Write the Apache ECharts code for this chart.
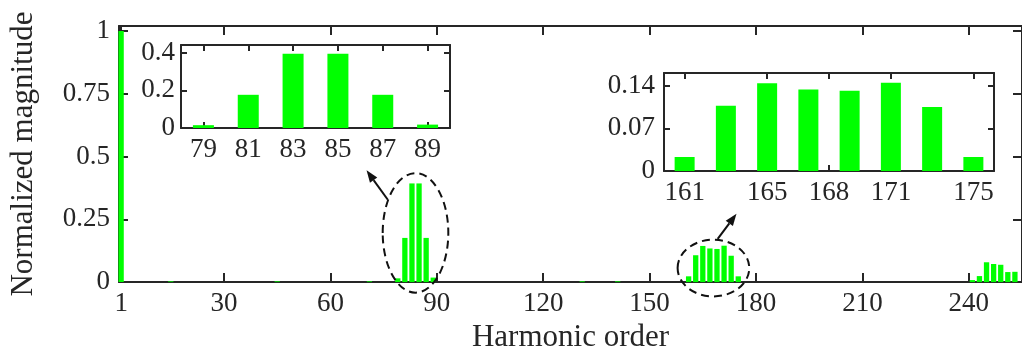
<!DOCTYPE html>
<html>
<head>
<meta charset="utf-8">
<script src="https://cdn.jsdelivr.net/npm/echarts@6/dist/echarts.min.js"></script>
<style>
  html, body { margin: 0; padding: 0; background: #fff; }
  #chart { width: 1022px; height: 358px; }
</style>
</head>
<body>
<div id="chart"></div>
<script>
// harmonic spectrum (normalized to the fundamental)
const harmonicOrders = [1, 15, 45, 71, 79, 81, 83, 85, 87, 89, 131, 141,
  161, 163, 165, 167, 169, 171, 173, 175, 241, 243, 245, 247, 249, 251, 253];
const magnitudes = [1.0, 0.003, 0.003, 0.003, 0.015, 0.176, 0.393, 0.393, 0.176, 0.018, 0.003, 0.003,
  0.023, 0.107, 0.144, 0.134, 0.132, 0.145, 0.105, 0.023, 0.008, 0.024, 0.079, 0.072, 0.069, 0.040, 0.041];

// tick labels
const mainXTicks = [1, 30, 60, 90, 120, 150, 180, 210, 240];
const mainYTicks = [0, 0.25, 0.5, 0.75, 1];
const inset1XTicks = [79, 81, 83, 85, 87, 89];
const inset1YTicks = [0, 0.2, 0.4];
const inset2XTicks = [161, 165, 168, 171, 175];
const inset2YTicks = [0, 0.07, 0.14];

// zoom windows
const inset1Range = [78, 90];
const inset2Range = [160, 176];

// annotations in data coordinates of the main plot
const ellipses = [
  { x: 84, y: 0.196, rx: 9.25, ry: 0.238 },
  { x: 168, y: 0.056, rx: 10.1, ry: 0.113 }
];
const arrows = [
  { from: [76.2, 0.328], to: [70.2, 0.445] },
  { from: [169.2, 0.172], to: [174.5, 0.272] }
];

const FONT = "Liberation Serif";
const INK = "#262626";
const GREEN = "#00ff00";

const pairs = harmonicOrders.map((h, i) => [h, magnitudes[i]]);
const inRange = (r) => pairs.filter(p => p[0] >= r[0] && p[0] <= r[1]);

function boxAxes(grid, xr, yr, xt, yt, tickLen, fs, xm, ym) {
  const line = { show: true, onZero: false, lineStyle: { color: INK, width: 2 } };
  const x = {
    type: "value", gridIndex: grid, min: xr[0], max: xr[1],
    axisLine: line, splitLine: { show: false },
    axisTick: { inside: true, length: tickLen, customValues: xt, lineStyle: { color: INK, width: 2 } },
    axisLabel: { customValues: xt, margin: xm, fontFamily: FONT, fontSize: fs, color: INK }
  };
  const y = {
    type: "value", gridIndex: grid, min: yr[0], max: yr[1],
    axisLine: line, splitLine: { show: false },
    axisTick: { inside: true, length: tickLen, customValues: yt, lineStyle: { color: INK, width: 2 } },
    axisLabel: { customValues: yt, margin: ym, fontFamily: FONT, fontSize: fs, color: INK }
  };
  const xTop = Object.assign({}, x, { position: "top", axisLabel: { show: false } });
  const yRight = Object.assign({}, y, { position: "right", axisLabel: { show: false } });
  return { x: [x, xTop], y: [y, yRight] };
}

const mainAx = boxAxes(0, [0.4, 255], [0, 1.02], mainXTicks, mainYTicks, 9, 27, 8, 9);
mainAx.x[0].name = "Harmonic order";
mainAx.x[0].nameLocation = "middle";
mainAx.x[0].nameGap = 38;
mainAx.x[0].nameTextStyle = { fontFamily: FONT, fontSize: 31, color: INK };
mainAx.y[0].name = "Normalized magnitude";
mainAx.y[0].nameLocation = "middle";
mainAx.y[0].nameGap = 80;
mainAx.y[0].nameTextStyle = { fontFamily: FONT, fontSize: 31, color: INK };

const in1Ax = boxAxes(1, inset1Range, [0, 0.44], inset1XTicks, inset1YTicks, 6, 27, 8, 6);
const in2Ax = boxAxes(2, inset2Range, [0, 0.161], inset2XTicks, inset2YTicks, 6, 27, 8, 9);

const chart = echarts.init(document.getElementById("chart"));

const option = {
  animation: false,
  backgroundColor: "#fff",
  grid: [
    { left: 118, top: 26, width: 908, height: 261 },
    { left: 181, top: 45, width: 269, height: 83, show: true, backgroundColor: "#fff", borderWidth: 0 },
    { left: 664, top: 73, width: 330, height: 98, show: true, backgroundColor: "#fff", borderWidth: 0 }
  ],
  xAxis: [].concat(mainAx.x, in1Ax.x, in2Ax.x),
  yAxis: [].concat(mainAx.y, in1Ax.y, in2Ax.y),
  series: [
    { type: "bar", xAxisIndex: 0, yAxisIndex: 0, data: pairs, barWidth: 5.3,
      itemStyle: { color: GREEN } },
    { type: "bar", xAxisIndex: 2, yAxisIndex: 2, data: inRange(inset1Range), barWidth: 21,
      itemStyle: { color: GREEN } },
    { type: "bar", xAxisIndex: 4, yAxisIndex: 4, data: inRange(inset2Range), barWidth: 20,
      itemStyle: { color: GREEN } }
  ]
};

chart.setOption(option);

// dashed ellipses and arrows pointing to the insets
const toPx = (p) => chart.convertToPixel({ xAxisIndex: 0, yAxisIndex: 0 }, p);
const graphics = [];
ellipses.forEach(e => {
  const c = toPx([e.x, e.y]);
  const edge = toPx([e.x + e.rx, e.y + e.ry]);
  graphics.push({
    type: "ellipse", z: 100,
    shape: { cx: c[0], cy: c[1], rx: edge[0] - c[0], ry: c[1] - edge[1] },
    style: { fill: "none", stroke: "#111", lineWidth: 2, lineDash: [8, 5] }
  });
});
arrows.forEach(a => {
  const p0 = toPx(a.from), p1 = toPx(a.to);
  const dx = p1[0] - p0[0], dy = p1[1] - p0[1];
  const len = Math.sqrt(dx * dx + dy * dy);
  const ux = dx / len, uy = dy / len;
  const hl = 12, hw = 4.5;
  const bx = p1[0] - ux * hl, by = p1[1] - uy * hl;
  graphics.push({
    type: "line", z: 100,
    shape: { x1: p0[0], y1: p0[1], x2: bx, y2: by },
    style: { stroke: "#111", lineWidth: 2 }
  });
  graphics.push({
    type: "polygon", z: 100,
    shape: { points: [p1, [bx - uy * hw, by + ux * hw], [bx + uy * hw, by - ux * hw]] },
    style: { fill: "#111" }
  });
});
chart.setOption({ graphic: graphics });

window.addEventListener("resize", function () { chart.resize(); });
</script>
</body>
</html>
